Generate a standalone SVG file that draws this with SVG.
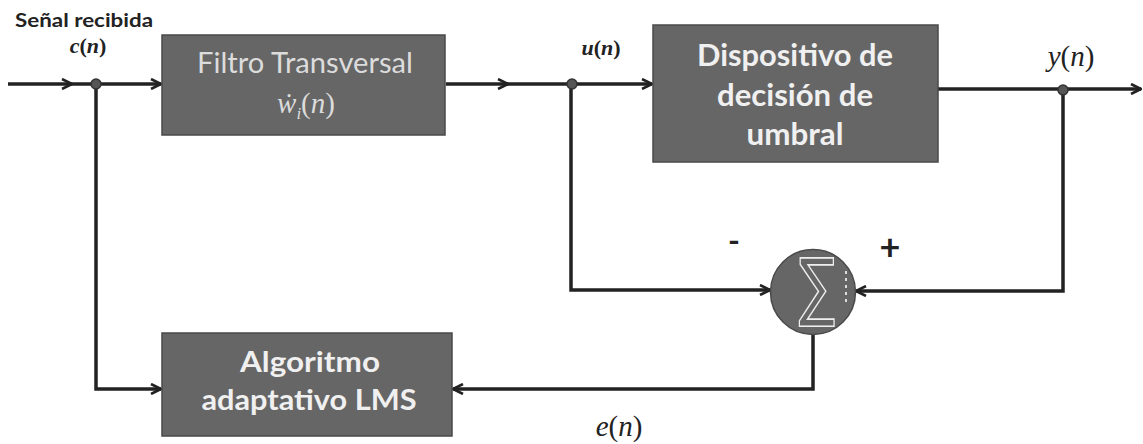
<svg xmlns="http://www.w3.org/2000/svg" width="1143" height="444" viewBox="0 0 1143 444">
<style>
.box{fill:#666;stroke:#4a4a4a;stroke-width:1.5}
.bt{font-family:Lato,"Liberation Sans",sans-serif;font-weight:bold;fill:#f0f0f0;text-anchor:middle}
.ft{font-family:Lato,"Liberation Sans",sans-serif;fill:#dcdcdc;text-anchor:middle}
.m{font-family:"Liberation Serif","DejaVu Serif",serif;fill:#222}
.mi{font-style:italic}
.w{fill:none;stroke:#222;stroke-width:3.5;stroke-linejoin:miter}
.dot{fill:#555;stroke:#333;stroke-width:1.5}
.sg{font-family:"DejaVu Sans","Liberation Sans",sans-serif;font-size:54px;fill:none;stroke:#eee;stroke-width:1.2;text-anchor:middle}
</style>
<defs>
<marker id="ar" viewBox="0 0 12 12" refX="11" refY="6" markerWidth="12" markerHeight="12" markerUnits="userSpaceOnUse" orient="auto">
<path d="M1,1 L11,6 L1,11" fill="none" stroke="#222" stroke-width="2.6"/>
</marker>
</defs>

<g id="connectors">
<path class="w" d="M8,84 L72,84" marker-end="url(#ar)"/>
<path class="w" d="M70,84 L161,84" marker-end="url(#ar)"/>
<path class="w" d="M446,84 L508,84" marker-end="url(#ar)"/>
<path class="w" d="M505,84 L652,84" marker-end="url(#ar)"/>
<path class="w" d="M938,89 L1141,89" marker-end="url(#ar)"/>
<path class="w" d="M1063,89 L1063,291 L856,291" marker-end="url(#ar)"/>
<path class="w" d="M571,84 L571,290 L770,290" marker-end="url(#ar)"/>
<path class="w" d="M813,335 L813,389 L453,389" marker-end="url(#ar)"/>
<path class="w" d="M96,84 L96,389 L161,389" marker-end="url(#ar)"/>
<circle class="dot" cx="96" cy="84" r="5"/>
<circle class="dot" cx="572" cy="84" r="5"/>
<circle class="dot" cx="1063" cy="90" r="5"/>
</g>

<g id="filtro">
<rect class="box" x="162" y="35" width="283" height="100"/>
<text class="ft" x="305" y="73" font-size="29" textLength="216" lengthAdjust="spacingAndGlyphs">Filtro Transversal</text>
<text class="m" x="306" y="113" font-size="29" text-anchor="middle" style="fill:#dcdcdc"><tspan class="mi">ẇ</tspan><tspan class="mi" font-size="17" dy="6">i</tspan><tspan dy="-6">(</tspan><tspan class="mi">n</tspan><tspan>)</tspan></text>
</g>

<g id="dispositivo">
<rect class="box" x="653" y="25" width="285" height="137"/>
<text class="bt" x="795" y="66" font-size="30" textLength="196" lengthAdjust="spacingAndGlyphs">Dispositivo de</text>
<text class="bt" x="795" y="106" font-size="30" textLength="156" lengthAdjust="spacingAndGlyphs">decisión de</text>
<text class="bt" x="795" y="145" font-size="30" textLength="97" lengthAdjust="spacingAndGlyphs">umbral</text>
</g>

<g id="algoritmo">
<rect class="box" x="162" y="333" width="290" height="103"/>
<text class="bt" x="310" y="372" font-size="28" textLength="140" lengthAdjust="spacingAndGlyphs">Algoritmo</text>
<text class="bt" x="309" y="410" font-size="28" textLength="215" lengthAdjust="spacingAndGlyphs">adaptativo LMS</text>
</g>

<g id="sumador">
<circle cx="813" cy="292" r="42.5" fill="#666" stroke="#4a4a4a" stroke-width="1.5"/>
<text class="sg" transform="translate(817,312) scale(1,1.4)" x="0" y="0">∑</text>
<line x1="846" y1="271" x2="846" y2="305" stroke="#ddd" stroke-width="2" stroke-dasharray="3,4"/>
</g>

<g id="labels">
<text x="15" y="27" font-family="Lato,'Liberation Sans',sans-serif" font-weight="bold" font-size="18" fill="#222" textLength="138" lengthAdjust="spacingAndGlyphs">Señal recibida</text>
<text class="m" x="88" y="53" font-size="22" font-weight="bold" text-anchor="middle"><tspan class="mi">c</tspan>(<tspan class="mi">n</tspan>)</text>
<text class="m" x="601" y="55" font-size="22" font-weight="bold" text-anchor="middle"><tspan class="mi">u</tspan>(<tspan class="mi">n</tspan>)</text>
<text class="m" x="1071" y="66" font-size="29" text-anchor="middle"><tspan class="mi">y</tspan>(<tspan class="mi">n</tspan>)</text>
<text class="m" x="619" y="436" font-size="29" text-anchor="middle"><tspan class="mi">e</tspan>(<tspan class="mi">n</tspan>)</text>
<text x="734" y="252" font-family="Lato,'Liberation Sans',sans-serif" font-weight="bold" font-size="32" fill="#222" text-anchor="middle">-</text>
<text x="890" y="260" font-family="Lato,'Liberation Sans',sans-serif" font-weight="bold" font-size="36" fill="#222" text-anchor="middle">+</text>
</g>
</svg>
